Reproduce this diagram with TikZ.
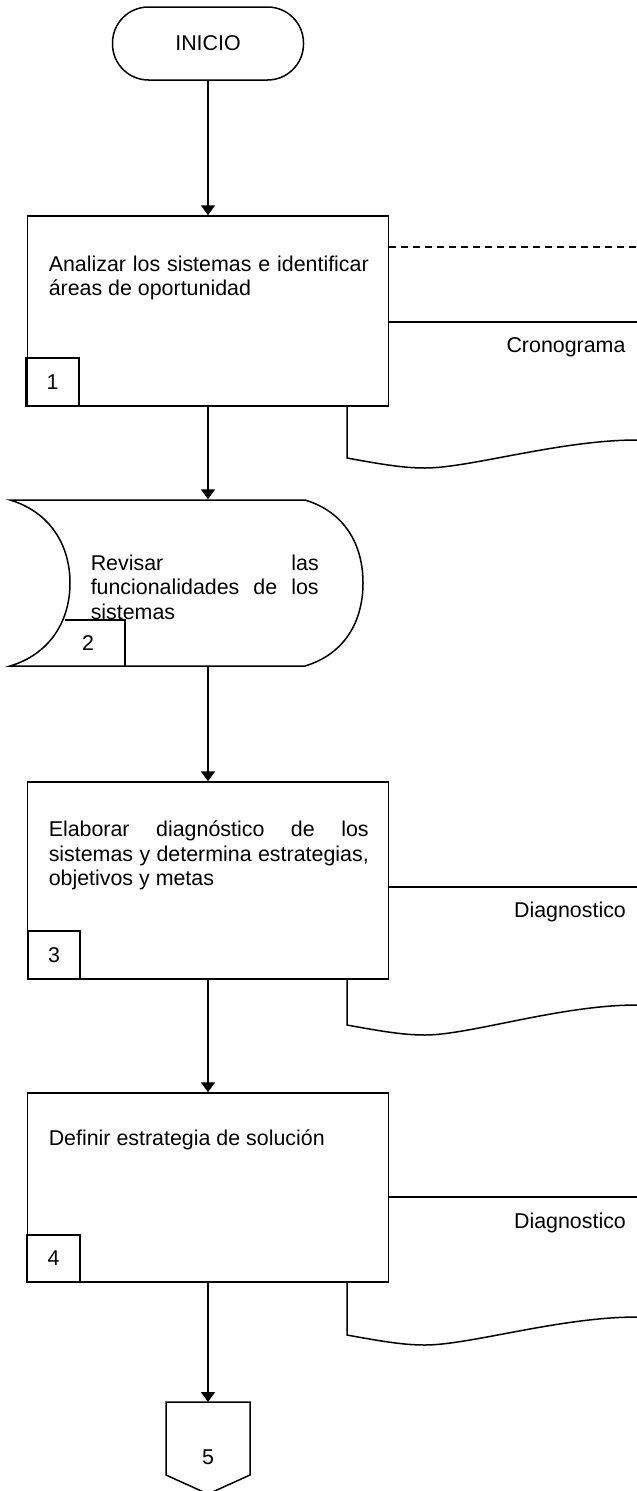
\documentclass[tikz,border=0pt]{standalone}
\usepackage{fontspec}
\setmainfont{Liberation Sans}
\usetikzlibrary{arrows.meta}

\tikzset{paso/.style={draw, line width=1.5pt, minimum width=361pt, inner sep=0pt}}
\tikzset{num/.style={draw, line width=1.5pt, minimum width=53pt, minimum height=48pt, inner sep=0pt}}
\tikzset{txt/.style={anchor=north west, inner sep=0pt, text width=320pt, align=justify}}
\tikzset{flecha/.style={line width=1.8pt, -{Triangle[width=14pt,length=10pt]}}}

\begin{document}
\begin{tikzpicture}[x=1pt, y=-1pt, line width=1.5pt, every node/.style={font=\fontsize{21.4}{24.5}\selectfont}]
    \useasboundingbox (0,0) rectangle (637,1491);

    % inicio
    \node[draw, rounded corners=36pt, minimum width=191pt, minimum height=73pt] (0) at (208,43.5) {INICIO};

    % paso 1
    \node[paso, minimum height=190pt] (1) at (208,311) {};
    \node[num] (n1) at (52.5,382) {1};
    \node[txt] (t1) at (48,255) {Analizar los sistemas e identificar\linebreak áreas de oportunidad};
    \draw[dash pattern=on 7pt off 5pt] (1.east |- 0,247) -- (637,247);
    \draw (1.east |- 0,322) -- (637,322);
    \node (d1) at (566,347) {Cronograma};
    \draw (347,406) -- (347,458) .. controls (385,465) and (405,468) .. (425,468) .. controls (470,468) and (560,440) .. (637,440);

    % paso 2
    \node[minimum height=166pt, minimum width=1pt, inner sep=0pt] (2) at (208,583) {};
    \draw (10,500) -- (305,500) .. controls (345,512) and (363,545) .. (363,583) .. controls (363,621) and (345,654) .. (305,666) -- (10,666) .. controls (50,654) and (70,621) .. (70,583) .. controls (70,545) and (50,512) .. (10,500) -- cycle;
    \draw (65,620) -- (125,620) -- (125,666);
    \node (n2) at (88,643) {2};
    \node[txt, text width=228pt] (t2) at (90,554) {Revisar las\linebreak funcionalidades de los\linebreak sistemas};

    % paso 3
    \node[paso, minimum height=197pt] (3) at (208,880.5) {};
    \node[num, minimum width=52pt] (n3) at (54,955) {3};
    \node[txt] (t3) at (48,820) {Elaborar diagnóstico de los\linebreak sistemas y determina estrategias,\linebreak objetivos y metas};
    \draw (3.east |- 0,887) -- (637,887);
    \node (d3) at (570,912) {Diagnostico};
    \draw (347,979) -- (347,1025) .. controls (385,1032) and (405,1035) .. (425,1035) .. controls (470,1035) and (560,1005) .. (637,1005);

    % paso 4
    \node[paso, minimum height=189pt] (4) at (208,1187.5) {};
    \node[num, minimum height=47pt] (n4) at (53.5,1258.5) {4};
    \node[txt] (t4) at (48,1129) {Definir estrategia de solución};
    \draw (4.east |- 0,1197) -- (637,1197);
    \node (d4) at (570,1223) {Diagnostico};
    \draw (347,1282) -- (347,1335) .. controls (385,1342) and (405,1345) .. (425,1345) .. controls (470,1345) and (560,1317) .. (637,1317);

    % conector
    \coordinate (c5) at (208,1402);
    \draw (166,1402) -- (250,1402) -- (250,1475) -- (208,1494) -- (166,1475) -- cycle;
    \node (5) at (208,1457) {5};

    \draw[flecha] (0) -- (1);
    \draw[flecha] (1) -- (2);
    \draw[flecha] (2) -- (3);
    \draw[flecha] (3) -- (4);
    \draw[flecha] (4) -- (c5);
\end{tikzpicture}
\end{document}
